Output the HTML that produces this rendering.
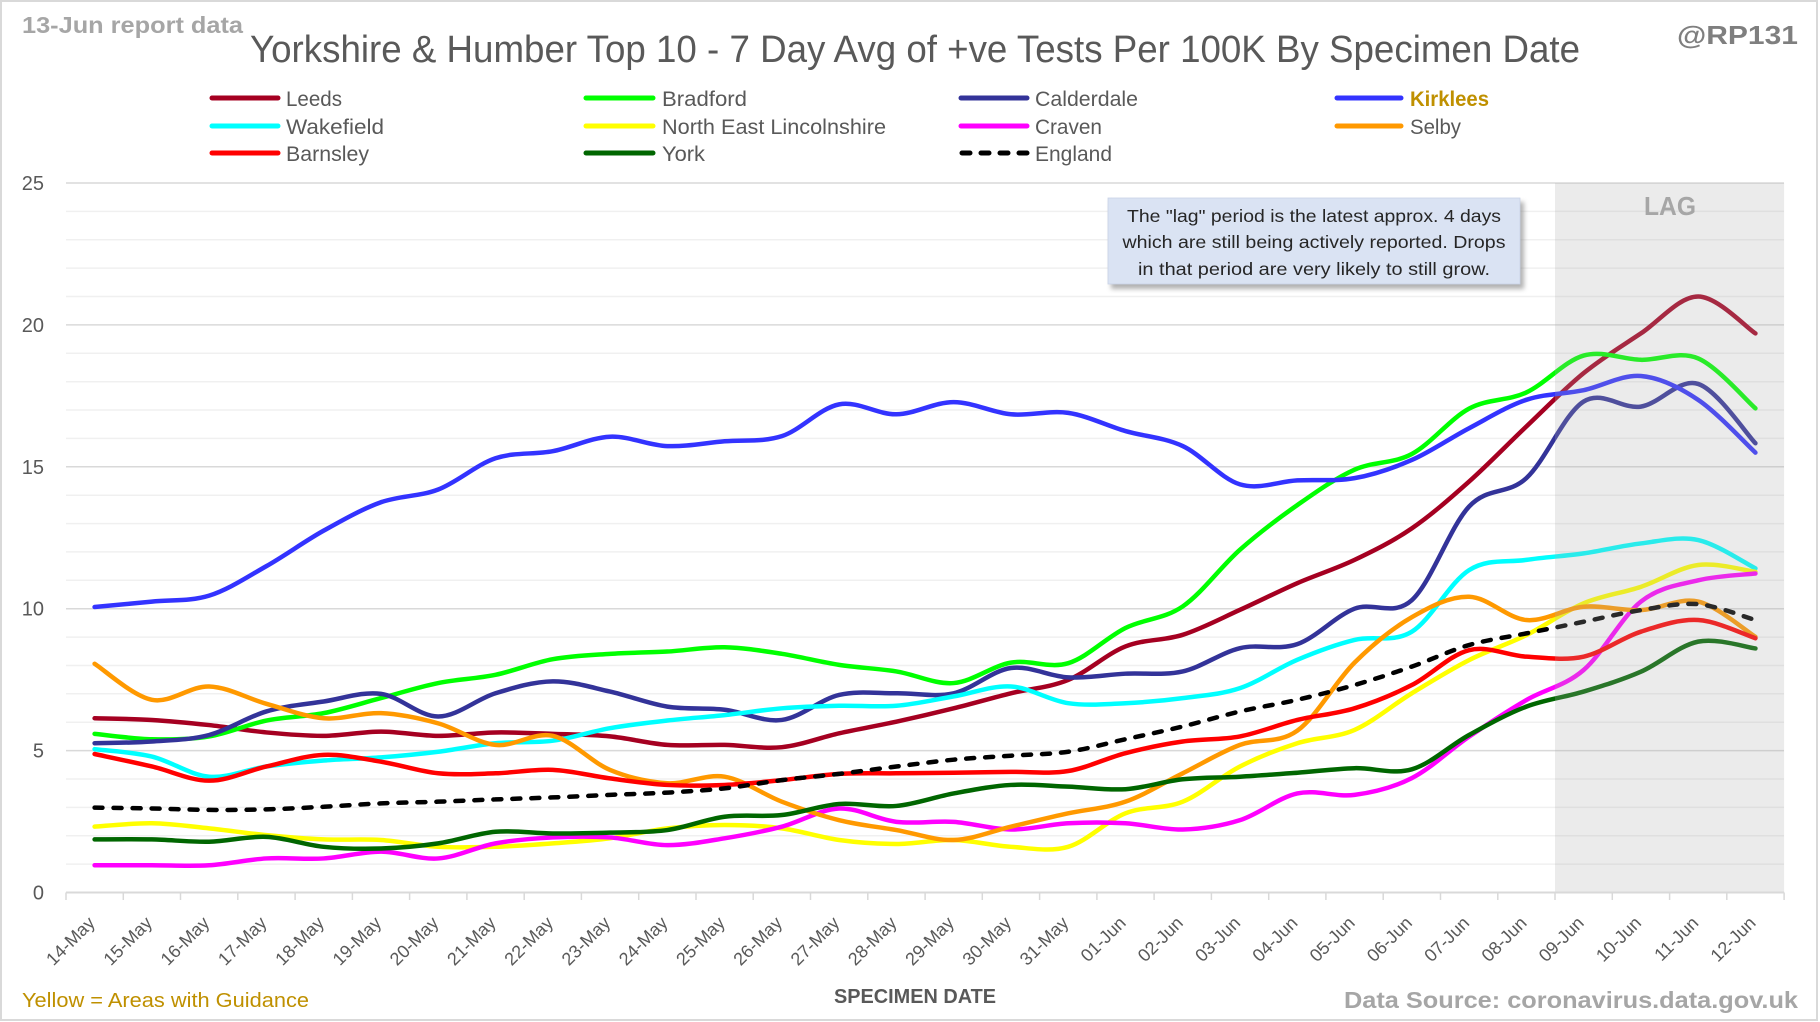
<!DOCTYPE html>
<html>
<head>
<meta charset="utf-8">
<style>
html,body{margin:0;padding:0;background:#fff;}
svg{display:block;}
text{font-family:"Liberation Sans",Arial,sans-serif;}
</style>
</head>
<body>
<svg id="c" xmlns="http://www.w3.org/2000/svg" width="1820" height="1022" viewBox="0 0 1820 1022">
<defs>
<filter id="blur" x="-10%" y="-10%" width="120%" height="130%"><feGaussianBlur stdDeviation="2.5"/></filter>
</defs>
<rect x="0" y="0" width="1820" height="1022" fill="#fff"/>
<rect x="1" y="1" width="1816" height="1019" fill="none" stroke="#d9d9d9" stroke-width="2"/>

<!-- header texts -->
<text x="22" y="33" font-size="23" font-weight="bold" fill="#a6a6a6" textLength="221" lengthAdjust="spacingAndGlyphs">13-Jun report data</text>
<text x="250" y="62" font-size="38" fill="#595959" textLength="1330" lengthAdjust="spacingAndGlyphs">Yorkshire &amp; Humber Top 10 - 7 Day Avg of +ve Tests Per 100K By Specimen Date</text>
<text x="1677" y="44" font-size="26" font-weight="bold" fill="#7f7f7f" textLength="121" lengthAdjust="spacingAndGlyphs">@RP131</text>

<!-- legend -->
<g stroke-width="5" stroke-linecap="round">
<line x1="212" y1="98" x2="278" y2="98" stroke="#a50021"/>
<line x1="586" y1="98" x2="653" y2="98" stroke="#00ff00"/>
<line x1="961" y1="98" x2="1027" y2="98" stroke="#333399"/>
<line x1="1337" y1="98" x2="1401" y2="98" stroke="#3333ff"/>
<line x1="212" y1="126" x2="278" y2="126" stroke="#00ffff"/>
<line x1="586" y1="126" x2="653" y2="126" stroke="#ffff00"/>
<line x1="961" y1="126" x2="1027" y2="126" stroke="#ff00ff"/>
<line x1="1337" y1="126" x2="1401" y2="126" stroke="#ff9900"/>
<line x1="212" y1="153" x2="278" y2="153" stroke="#ff0000"/>
<line x1="586" y1="153" x2="653" y2="153" stroke="#006600"/>
<line x1="962" y1="153" x2="1027" y2="153" stroke="#000" stroke-dasharray="8 11"/>
</g>
<g font-size="21" fill="#595959">
<text x="286" y="106" textLength="56" lengthAdjust="spacingAndGlyphs">Leeds</text>
<text x="662" y="106" textLength="85" lengthAdjust="spacingAndGlyphs">Bradford</text>
<text x="1035" y="106" textLength="103" lengthAdjust="spacingAndGlyphs">Calderdale</text>
<text x="1410" y="106" textLength="79" lengthAdjust="spacingAndGlyphs" font-weight="bold" fill="#bf9000">Kirklees</text>
<text x="286" y="134" textLength="98" lengthAdjust="spacingAndGlyphs">Wakefield</text>
<text x="662" y="134" textLength="224" lengthAdjust="spacingAndGlyphs">North East Lincolnshire</text>
<text x="1035" y="134" textLength="67" lengthAdjust="spacingAndGlyphs">Craven</text>
<text x="1410" y="134" textLength="51" lengthAdjust="spacingAndGlyphs">Selby</text>
<text x="286" y="161" textLength="83" lengthAdjust="spacingAndGlyphs">Barnsley</text>
<text x="662" y="161" textLength="43" lengthAdjust="spacingAndGlyphs">York</text>
<text x="1035" y="161" textLength="77" lengthAdjust="spacingAndGlyphs">England</text>
</g>

<!-- gridlines -->
<g stroke-width="1.5">
<g stroke="#f0f0f0">
<line x1="66" x2="1784" y1="864.1" y2="864.1"/>
<line x1="66" x2="1784" y1="835.7" y2="835.7"/>
<line x1="66" x2="1784" y1="807.4" y2="807.4"/>
<line x1="66" x2="1784" y1="779.0" y2="779.0"/>
<line x1="66" x2="1784" y1="722.2" y2="722.2"/>
<line x1="66" x2="1784" y1="693.8" y2="693.8"/>
<line x1="66" x2="1784" y1="665.5" y2="665.5"/>
<line x1="66" x2="1784" y1="637.1" y2="637.1"/>
<line x1="66" x2="1784" y1="580.3" y2="580.3"/>
<line x1="66" x2="1784" y1="551.9" y2="551.9"/>
<line x1="66" x2="1784" y1="523.6" y2="523.6"/>
<line x1="66" x2="1784" y1="495.2" y2="495.2"/>
<line x1="66" x2="1784" y1="438.4" y2="438.4"/>
<line x1="66" x2="1784" y1="410.0" y2="410.0"/>
<line x1="66" x2="1784" y1="381.7" y2="381.7"/>
<line x1="66" x2="1784" y1="353.3" y2="353.3"/>
<line x1="66" x2="1784" y1="296.5" y2="296.5"/>
<line x1="66" x2="1784" y1="268.1" y2="268.1"/>
<line x1="66" x2="1784" y1="239.8" y2="239.8"/>
<line x1="66" x2="1784" y1="211.4" y2="211.4"/>
</g>
<g stroke="#d9d9d9">
<line x1="66" x2="1784" y1="750.6" y2="750.6"/>
<line x1="66" x2="1784" y1="608.7" y2="608.7"/>
<line x1="66" x2="1784" y1="466.8" y2="466.8"/>
<line x1="66" x2="1784" y1="324.9" y2="324.9"/>
<line x1="66" x2="1784" y1="183.0" y2="183.0"/>
</g>
</g>

<!-- y labels -->
<g font-size="20" fill="#595959" text-anchor="end">
<text x="44" y="899.5">0</text>
<text x="44" y="757.6">5</text>
<text x="44" y="615.7">10</text>
<text x="44" y="473.8">15</text>
<text x="44" y="331.9">20</text>
<text x="44" y="190">25</text>
</g>

<!-- fallback series (replaced by smoothed paths via script) -->
<g id="fb" transform="translate(94.6 892.5) scale(57.27 -28.38)" fill="none" stroke-width="4.5" stroke-linejoin="round" stroke-linecap="round">
<polyline vector-effect="non-scaling-stroke" stroke="#a50021" points="0,6.14 1,6.08 2,5.9 3,5.64 4,5.52 5,5.67 6,5.52 7,5.64 8,5.59 9,5.5 10,5.2 11,5.2 12,5.12 13,5.61 14,6.02 15,6.49 16,7.02 17,7.49 18,8.67 19,9.08 20,9.96 21,10.9 22,11.72 23,12.83 24,14.48 25,16.42 26,18.3 27,19.7 28,21.0 29,19.7"/>
<polyline vector-effect="non-scaling-stroke" stroke="#00ff00" points="0,5.59 1,5.4 2,5.5 3,6.06 4,6.32 5,6.85 6,7.38 7,7.67 8,8.22 9,8.41 10,8.49 11,8.64 12,8.41 13,8.02 14,7.79 15,7.38 16,8.1 17,8.08 18,9.32 19,10.08 20,12.08 21,13.65 22,14.9 23,15.45 24,17.05 25,17.62 26,18.92 27,18.77 28,18.82 29,17.06"/>
<polyline vector-effect="non-scaling-stroke" stroke="#333399" points="0,5.26 1,5.32 2,5.55 3,6.38 4,6.73 5,7.0 6,6.2 7,7.02 8,7.44 9,7.08 10,6.55 11,6.44 12,6.08 13,6.96 14,7.02 15,7.02 16,7.91 17,7.58 18,7.71 19,7.79 20,8.61 21,8.75 22,10.0 23,10.3 24,13.6 25,14.6 26,17.3 27,17.12 28,17.92 29,15.83"/>
<polyline vector-effect="non-scaling-stroke" stroke="#3333ff" points="0,10.06 1,10.25 2,10.46 3,11.5 4,12.75 5,13.75 6,14.2 7,15.3 8,15.55 9,16.06 10,15.73 11,15.9 12,16.08 13,17.2 14,16.85 15,17.28 16,16.85 17,16.9 18,16.26 19,15.73 20,14.38 21,14.52 22,14.6 23,15.24 24,16.36 25,17.36 26,17.7 27,18.2 28,17.36 29,15.5"/>
<polyline vector-effect="non-scaling-stroke" stroke="#00ffff" points="0,5.05 1,4.79 2,4.08 3,4.44 4,4.65 5,4.76 6,4.96 7,5.26 8,5.35 9,5.79 10,6.06 11,6.25 12,6.49 13,6.58 14,6.58 15,6.91 16,7.26 17,6.67 18,6.67 19,6.85 20,7.2 21,8.2 22,8.9 23,9.19 24,11.36 25,11.72 26,11.95 27,12.3 28,12.42 29,11.42"/>
<polyline vector-effect="non-scaling-stroke" stroke="#ffff00" points="0,2.32 1,2.44 2,2.26 3,2.02 4,1.87 5,1.85 6,1.61 7,1.61 8,1.73 9,1.91 10,2.26 11,2.38 12,2.26 13,1.85 14,1.71 15,1.85 16,1.61 17,1.61 18,2.79 19,3.2 20,4.44 21,5.26 22,5.73 23,7.02 24,8.19 25,9.07 26,10.19 27,10.77 28,11.54 29,11.3"/>
<polyline vector-effect="non-scaling-stroke" stroke="#ff00ff" points="0,0.96 1,0.96 2,0.96 3,1.2 4,1.2 5,1.44 6,1.2 7,1.73 8,1.94 9,1.94 10,1.67 11,1.91 12,2.32 13,2.96 14,2.49 15,2.49 16,2.22 17,2.44 18,2.44 19,2.22 20,2.55 21,3.49 22,3.44 23,4.03 24,5.49 25,6.78 26,7.84 27,10.25 28,11.0 29,11.24"/>
<polyline vector-effect="non-scaling-stroke" stroke="#ff9900" points="0,8.06 1,6.79 2,7.26 3,6.65 4,6.14 5,6.32 6,5.96 7,5.2 8,5.52 9,4.32 10,3.85 11,4.08 12,3.2 13,2.55 14,2.2 15,1.85 16,2.32 17,2.79 18,3.2 19,4.2 20,5.2 21,5.7 22,8.1 23,9.7 24,10.42 25,9.6 26,10.07 27,9.95 28,10.25 29,9.01"/>
<polyline vector-effect="non-scaling-stroke" stroke="#ff0000" points="0,4.88 1,4.44 2,3.94 3,4.44 4,4.85 5,4.61 6,4.2 7,4.2 8,4.32 9,4.02 10,3.79 11,3.79 12,3.96 13,4.18 14,4.2 15,4.22 16,4.25 17,4.28 18,4.91 19,5.32 20,5.5 21,6.08 22,6.49 23,7.31 24,8.54 25,8.31 26,8.31 27,9.19 28,9.6 29,8.96"/>
<polyline vector-effect="non-scaling-stroke" stroke="#006600" points="0,1.87 1,1.87 2,1.79 3,1.96 4,1.61 5,1.55 6,1.73 7,2.14 8,2.08 9,2.11 10,2.2 11,2.67 12,2.73 13,3.12 14,3.05 15,3.49 16,3.79 17,3.73 18,3.64 19,3.99 20,4.08 21,4.22 22,4.38 23,4.34 24,5.55 25,6.55 26,7.08 27,7.78 28,8.84 29,8.6"/>
<polyline class="dash" vector-effect="non-scaling-stroke" stroke="#000000" stroke-dasharray="8 11" points="0,2.99 1,2.96 2,2.91 3,2.93 4,3.02 5,3.14 6,3.2 7,3.28 8,3.35 9,3.44 10,3.52 11,3.67 12,3.96 13,4.18 14,4.44 15,4.68 16,4.82 17,4.96 18,5.4 19,5.85 20,6.38 21,6.79 22,7.31 23,7.96 24,8.72 25,9.13 26,9.54 27,9.95 28,10.16 29,9.6"/>
</g>
<g id="lines"></g>

<!-- LAG overlay -->
<rect x="1555" y="183" width="229.1" height="709.5" fill="rgb(170,170,170)" fill-opacity="0.24"/>
<text x="1670" y="215" font-size="26" font-weight="bold" fill="#a6a6a6" text-anchor="middle" textLength="52" lengthAdjust="spacingAndGlyphs">LAG</text>

<!-- x axis -->
<line x1="66" y1="892.5" x2="1784.1" y2="892.5" stroke="#d9d9d9" stroke-width="2"/>
<g stroke="#d9d9d9" stroke-width="1.5">
<line x1="66" y1="892.5" x2="66" y2="900"/><line x1="123.3" y1="892.5" x2="123.3" y2="900"/><line x1="180.5" y1="892.5" x2="180.5" y2="900"/><line x1="237.8" y1="892.5" x2="237.8" y2="900"/><line x1="295.1" y1="892.5" x2="295.1" y2="900"/><line x1="352.4" y1="892.5" x2="352.4" y2="900"/><line x1="409.6" y1="892.5" x2="409.6" y2="900"/><line x1="466.9" y1="892.5" x2="466.9" y2="900"/><line x1="524.2" y1="892.5" x2="524.2" y2="900"/><line x1="581.4" y1="892.5" x2="581.4" y2="900"/><line x1="638.7" y1="892.5" x2="638.7" y2="900"/><line x1="696" y1="892.5" x2="696" y2="900"/><line x1="753.2" y1="892.5" x2="753.2" y2="900"/><line x1="810.5" y1="892.5" x2="810.5" y2="900"/><line x1="867.8" y1="892.5" x2="867.8" y2="900"/><line x1="925.1" y1="892.5" x2="925.1" y2="900"/><line x1="982.3" y1="892.5" x2="982.3" y2="900"/><line x1="1039.6" y1="892.5" x2="1039.6" y2="900"/><line x1="1096.9" y1="892.5" x2="1096.9" y2="900"/><line x1="1154.1" y1="892.5" x2="1154.1" y2="900"/><line x1="1211.4" y1="892.5" x2="1211.4" y2="900"/><line x1="1268.7" y1="892.5" x2="1268.7" y2="900"/><line x1="1325.9" y1="892.5" x2="1325.9" y2="900"/><line x1="1383.2" y1="892.5" x2="1383.2" y2="900"/><line x1="1440.5" y1="892.5" x2="1440.5" y2="900"/><line x1="1497.8" y1="892.5" x2="1497.8" y2="900"/><line x1="1555" y1="892.5" x2="1555" y2="900"/><line x1="1612.3" y1="892.5" x2="1612.3" y2="900"/><line x1="1669.6" y1="892.5" x2="1669.6" y2="900"/><line x1="1726.8" y1="892.5" x2="1726.8" y2="900"/><line x1="1784.1" y1="892.5" x2="1784.1" y2="900"/>
</g>
<g font-size="18" fill="#595959" text-anchor="end">
<text transform="translate(96,924) rotate(-45)">14-May</text>
<text transform="translate(153.3,924) rotate(-45)">15-May</text>
<text transform="translate(210.5,924) rotate(-45)">16-May</text>
<text transform="translate(267.8,924) rotate(-45)">17-May</text>
<text transform="translate(325.1,924) rotate(-45)">18-May</text>
<text transform="translate(382.4,924) rotate(-45)">19-May</text>
<text transform="translate(439.6,924) rotate(-45)">20-May</text>
<text transform="translate(496.9,924) rotate(-45)">21-May</text>
<text transform="translate(554.2,924) rotate(-45)">22-May</text>
<text transform="translate(611.4,924) rotate(-45)">23-May</text>
<text transform="translate(668.7,924) rotate(-45)">24-May</text>
<text transform="translate(726,924) rotate(-45)">25-May</text>
<text transform="translate(783.2,924) rotate(-45)">26-May</text>
<text transform="translate(840.5,924) rotate(-45)">27-May</text>
<text transform="translate(897.8,924) rotate(-45)">28-May</text>
<text transform="translate(955.1,924) rotate(-45)">29-May</text>
<text transform="translate(1012.3,924) rotate(-45)">30-May</text>
<text transform="translate(1069.6,924) rotate(-45)">31-May</text>
<text transform="translate(1126.9,924) rotate(-45)">01-Jun</text>
<text transform="translate(1184.1,924) rotate(-45)">02-Jun</text>
<text transform="translate(1241.4,924) rotate(-45)">03-Jun</text>
<text transform="translate(1298.7,924) rotate(-45)">04-Jun</text>
<text transform="translate(1355.9,924) rotate(-45)">05-Jun</text>
<text transform="translate(1413.2,924) rotate(-45)">06-Jun</text>
<text transform="translate(1470.5,924) rotate(-45)">07-Jun</text>
<text transform="translate(1527.8,924) rotate(-45)">08-Jun</text>
<text transform="translate(1585,924) rotate(-45)">09-Jun</text>
<text transform="translate(1642.3,924) rotate(-45)">10-Jun</text>
<text transform="translate(1699.6,924) rotate(-45)">11-Jun</text>
<text transform="translate(1756.8,924) rotate(-45)">12-Jun</text>
</g>

<!-- text box -->
<rect x="1111" y="202" width="413" height="87" fill="#7f7f7f" opacity="0.6" filter="url(#blur)"/>
<rect x="1108" y="198" width="412" height="86" fill="#dae3f3" stroke="#c9d3e6" stroke-width="0.8"/>
<g font-size="17.5" fill="#262626" text-anchor="middle">
<text x="1314" y="222" textLength="374" lengthAdjust="spacingAndGlyphs">The "lag" period is the latest approx. 4 days</text>
<text x="1314" y="248" textLength="383" lengthAdjust="spacingAndGlyphs">which are still being actively reported.  Drops</text>
<text x="1314" y="275" textLength="352" lengthAdjust="spacingAndGlyphs">in that period are very likely to still grow.</text>
</g>

<!-- footer -->
<text x="22" y="1007" font-size="20" fill="#bf9000" textLength="287" lengthAdjust="spacingAndGlyphs">Yellow = Areas with Guidance</text>
<text x="834" y="1003" font-size="20" font-weight="bold" fill="#595959" textLength="162" lengthAdjust="spacingAndGlyphs">SPECIMEN DATE</text>
<text x="1344" y="1008" font-size="23" font-weight="bold" fill="#a6a6a6" textLength="454" lengthAdjust="spacingAndGlyphs">Data Source: coronavirus.data.gov.uk</text>
</svg>
<script>
(function(){
try{
var ns='http://www.w3.org/2000/svg';
var fb=document.getElementById('fb'), out=document.getElementById('lines');
var pls=fb.getElementsByTagName('polyline');
for(var k=0;k<pls.length;k++){
  var pl=pls[k];
  var raw=pl.getAttribute('points').trim().split(/\s+/);
  var pts=[];
  for(var j=0;j<raw.length;j++){var a=raw[j].split(',');pts.push([94.6+57.27*parseFloat(a[0]),892.5-28.38*parseFloat(a[1])]);}
  var d='M'+pts[0][0].toFixed(2)+','+pts[0][1].toFixed(2);
  for(var i=0;i<pts.length-1;i++){
    var p0=pts[i>0?i-1:i],p1=pts[i],p2=pts[i+1],p3=pts[i+2<pts.length?i+2:i+1];
    var c1x=p1[0]+(p2[0]-p0[0])/6,c1y=p1[1]+(p2[1]-p0[1])/6;
    var c2x=p2[0]-(p3[0]-p1[0])/6,c2y=p2[1]-(p3[1]-p1[1])/6;
    d+=' C'+c1x.toFixed(2)+','+c1y.toFixed(2)+' '+c2x.toFixed(2)+','+c2y.toFixed(2)+' '+p2[0].toFixed(2)+','+p2[1].toFixed(2);
  }
  var p=document.createElementNS(ns,'path');
  p.setAttribute('d',d);
  p.setAttribute('fill','none');
  p.setAttribute('stroke',pl.getAttribute('stroke'));
  p.setAttribute('stroke-width','4.5');
  p.setAttribute('stroke-linecap','round');
  p.setAttribute('stroke-linejoin','round');
  if(pl.getAttribute('class')==='dash'){p.setAttribute('stroke-dasharray','8 11');}
  out.appendChild(p);
}
fb.parentNode.removeChild(fb);
}catch(e){}
})();
</script>
</body>
</html>
